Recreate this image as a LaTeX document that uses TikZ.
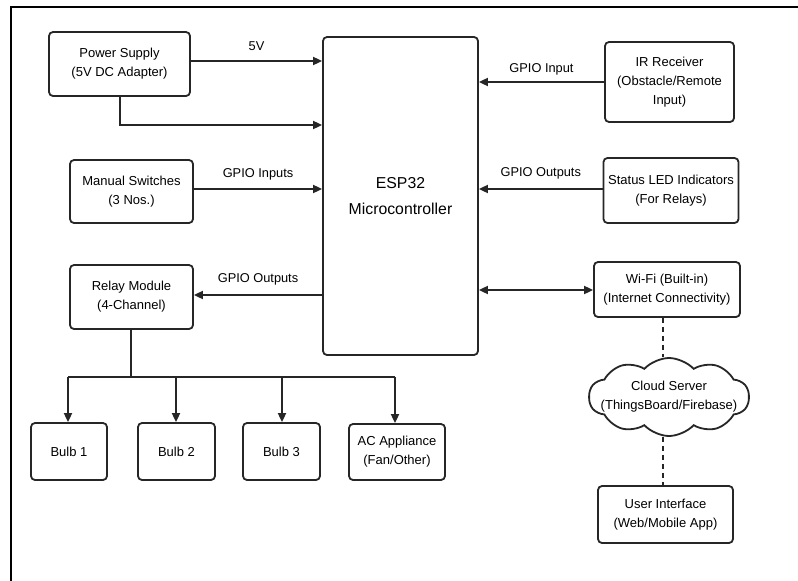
\documentclass[tikz,border=0pt]{standalone}
\usepackage{fontspec}
\setmainfont{Liberation Sans}
\usetikzlibrary{arrows.meta,shapes.symbols}
\tikzset{
  box/.style={draw=black!85, line width=1.8pt, rounded corners=4pt, align=center, inner sep=0pt,
    font=\fontsize{13}{19}\selectfont},
  lbl/.style={font=\fontsize{12.8}{15}\selectfont, inner sep=0pt},
  arr/.style={draw=black!85, line width=1.8pt, -{Triangle[length=9pt,width=8pt]}},
  darr/.style={draw=black!85, line width=1.8pt, {Triangle[length=9pt,width=8pt]}-{Triangle[length=9pt,width=8pt]}},
  ln/.style={draw=black!85, line width=1.8pt},
  dsh/.style={draw=black!85, line width=1.5pt, dash pattern=on 5pt off 4pt},
}
\begin{document}
\begin{tikzpicture}[x=1pt,y=-1pt]
\useasboundingbox (0,0) rectangle (798,581);
\fill[white] (0,0) rectangle (798,581);
% frame
\draw[line width=2.6pt, black] (11,581) -- (11,7) -- (798,7);

% nodes
\node[box, minimum width=141pt, minimum height=64pt] (ps) at (119.5,64) {Power Supply\\(5V DC Adapter)};
\node[box, minimum width=123pt, minimum height=63pt] (ms) at (131.5,191.5) {Manual Switches\\(3 Nos.)};
\node[box, minimum width=123pt, minimum height=64pt] (relay) at (131.5,297) {Relay Module\\(4-Channel)};
\node[box, minimum width=76pt, minimum height=57pt] (b1) at (69,451.5) {Bulb 1};
\node[box, minimum width=77pt, minimum height=57pt] (b2) at (176.5,451.5) {Bulb 2};
\node[box, minimum width=77pt, minimum height=57pt] (b3) at (281.5,451.5) {Bulb 3};
\node[box, minimum width=96pt, minimum height=56pt] (ac) at (397,452) {AC Appliance\\(Fan/Other)};
\node[box, minimum width=155pt, minimum height=318pt, font=\fontsize{15.8}{26}\selectfont] (esp) at (400.5,196) {ESP32\\Microcontroller};
\node[box, minimum width=129pt, minimum height=80pt] (ir) at (669.5,82) {IR Receiver\\(Obstacle/Remote\\Input)};
\node[box, minimum width=135pt, minimum height=65pt] (led) at (671,190.5) {Status LED Indicators\\(For Relays)};
\node[box, minimum width=146pt, minimum height=55pt] (wifi) at (667,289.5) {Wi-Fi (Built-in)\\(Internet Connectivity)};
\node[cloud, cloud puffs=10, cloud puff arc=95, aspect=2, draw=black!85, line width=1.8pt,
  inner sep=0pt, minimum width=160pt, minimum height=78pt] (cloud) at (669,397) {};
\node[align=center, inner sep=0pt, font=\fontsize{13}{19}\selectfont] (cloudtext) at (cloud.center) {Cloud Server\\(ThingsBoard/Firebase)};
\node[box, minimum width=135pt, minimum height=57pt] (ui) at (665.5,514.5) {User Interface\\(Web/Mobile App)};

% connectors
\draw[arr] (ps.east |- 0,61) -- node[lbl, midway, yshift=15pt] {5V} (esp.west |- 0,61);
\draw[arr] (ps.south -| 120,0) -- (120,125) -- (esp.west |- 0,125);
\draw[arr] (ms.east |- 0,189) -- node[lbl, midway, yshift=15pt] {GPIO Inputs} (esp.west |- 0,189);
\draw[arr] (esp.west |- 0,295) -- node[lbl, midway, yshift=16pt] {GPIO Outputs} (relay.east |- 0,295);
\draw[arr] (ir.west) -- node[lbl, midway, yshift=13pt] {GPIO Input} (esp.east |- ir.west);
\draw[arr] (led.west |- 0,189) -- node[lbl, midway, yshift=16pt] {GPIO Outputs} (esp.east |- 0,189);
\draw[darr] (esp.east |- 0,290) -- (wifi.west |- 0,290);

\coordinate (rj) at (131,377);
\draw[ln] (relay.south -| rj) -- (rj);
\draw[ln] (68,377) -- (395,377);
\draw[arr] (68,377) -- (b1.north -| 68,0);
\draw[arr] (176,377) -- (b2.north -| 176,0);
\draw[arr] (282,377) -- (b3.north -| 282,0);
\draw[arr] (395,377) -- (ac.north -| 395,0);

\draw[dsh] (wifi.south -| 663,0) -- (cloud.north -| 663,0);
\draw[dsh] (cloud.south -| 663,0) -- (ui.north -| 663,0);
\end{tikzpicture}
\end{document}
